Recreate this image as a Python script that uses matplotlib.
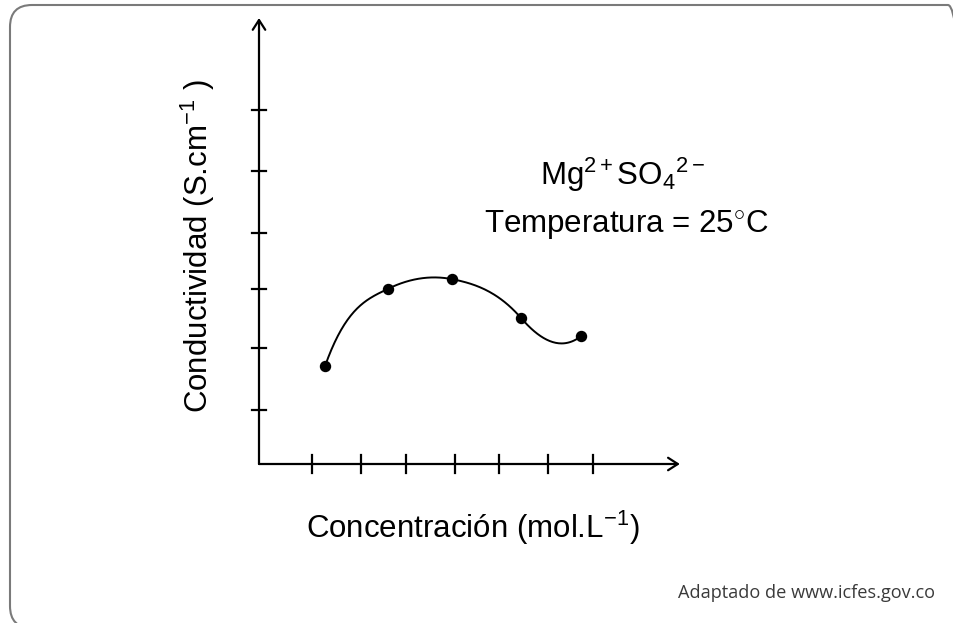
import numpy as np
import matplotlib
matplotlib.use("Agg")
import matplotlib.pyplot as plt
from matplotlib.patches import FancyBboxPatch

plt.rcParams['font.family'] = ['Liberation Sans', 'DejaVu Sans']
plt.rcParams['mathtext.fontset'] = 'custom'
plt.rcParams['mathtext.rm'] = 'Liberation Sans'
plt.rcParams['mathtext.it'] = 'Liberation Sans:italic'
plt.rcParams['mathtext.bf'] = 'Liberation Sans:bold'

# ---- data (arbitrary units) ----
concentracion = [1.28, 2.63, 3.99, 5.47, 6.75]
conductividad = [1.73, 3.02, 3.18, 2.53, 2.23]
# tangent of the hand-drawn curve at each point
pendiente = [2.2, 0.38, -0.15, -0.9, 0.6]
x_ticks = [1.0, 2.05, 3.01, 4.05, 4.99, 6.04, 7.0]
y_ticks = [1.0, 2.03, 3.02, 3.95, 4.98, 6.0]

def hermite_curve(x, y, d, n=60):
    xs_all, ys_all = [], []
    for i in range(len(x) - 1):
        h = x[i+1] - x[i]
        t = np.linspace(0, 1, n)
        h00 = 2*t**3 - 3*t**2 + 1
        h10 = t**3 - 2*t**2 + t
        h01 = -2*t**3 + 3*t**2
        h11 = t**3 - t**2
        xs_all.append(x[i] + t*h)
        ys_all.append(h00*y[i] + h10*h*d[i] + h01*y[i+1] + h11*h*d[i+1])
    return np.concatenate(xs_all), np.concatenate(ys_all)

fig = plt.figure(figsize=(9.54, 6.23), dpi=100)
W, H = 954, 623

# rounded frame (inches)
frame = FancyBboxPatch((0.10, -0.05), 9.60, 6.23, boxstyle="round,pad=0,rounding_size=0.22",
                       transform=fig.dpi_scale_trans, fill=False, edgecolor='#7a7a7a',
                       linewidth=1.5, clip_on=False)
fig.patches.append(frame)

xmin, xmax = -0.13, 8.97
ymin, ymax = 0.1, 7.58
left_px, right_px = 259, 685
bottom_px, top_px = 464, 15
ax = fig.add_axes([left_px/W, 1-bottom_px/H, (right_px-left_px)/W, (bottom_px-top_px)/H])
ax.set_xlim(xmin, xmax); ax.set_ylim(ymin, ymax)
ax.patch.set_alpha(0)
for s in ax.spines.values():
    s.set_visible(False)

# axes with arrows
ax.annotate('', xy=(8.86, ymin), xytext=(xmin, ymin),
            arrowprops=dict(arrowstyle='->,head_length=0.7,head_width=0.45', lw=1.6, color='black',
                            shrinkA=0, shrinkB=0), annotation_clip=False)
ax.annotate('', xy=(xmin, 7.53), xytext=(xmin, ymin),
            arrowprops=dict(arrowstyle='->,head_length=0.7,head_width=0.45', lw=1.6, color='black',
                            shrinkA=0, shrinkB=0), annotation_clip=False)
for xt in x_ticks:
    ax.plot([xt, xt], [ymin-0.15, ymin+0.15], color='black', lw=1.6, clip_on=False)
for yt in y_ticks:
    ax.plot([xmin-0.15, xmin+0.15], [yt, yt], color='black', lw=1.6, clip_on=False)
ax.set_xticks([]); ax.set_yticks([])

xs, ys = hermite_curve(concentracion, conductividad, pendiente)
ax.plot(xs, ys, color='black', lw=1.4)
ax.plot(concentracion, conductividad, 'o', color='black', markersize=7.2)

# texts
fs = 22.5
fig.text(623/W, 1-185/H, r'Mg$^{2+}$SO$_{4}$$^{2-}$', fontsize=fs, ha='center', va='baseline')
fig.text(626/W, 1-232/H, 'Temperatura = 25$^{\\circ}$C', fontsize=fs, ha='center', va='baseline')
fig.text(473/W, 1-538/H, 'Concentración (mol.L$^{-1}$)', fontsize=fs, ha='center', va='baseline')
fig.text(208/W, 1-246/H, 'Conductividad (S.cm$^{-1}$ )', fontsize=fs, ha='center', va='baseline',
         rotation=90, rotation_mode='anchor')
fig.text(935/W, 1-598/H, 'Adaptado de www.icfes.gov.co', fontsize=13.1, ha='right', va='baseline',
         color='#3a3a3a', family=['Open Sans', 'DejaVu Sans'])

fig.savefig('out.png', dpi=100)
